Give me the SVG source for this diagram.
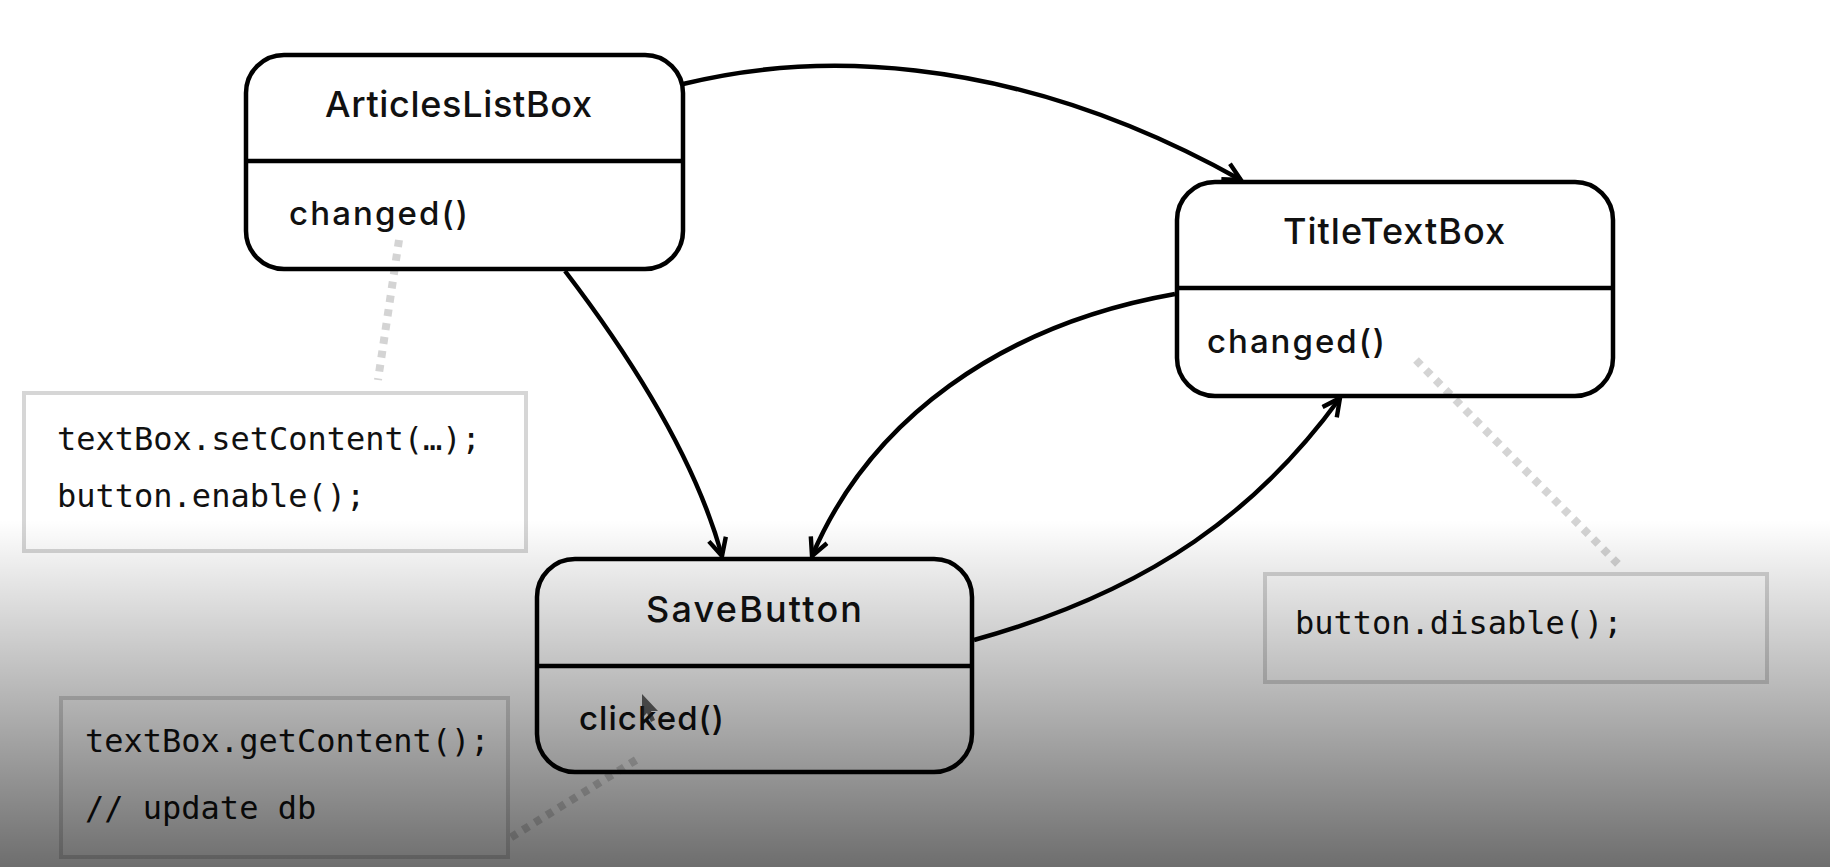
<svg xmlns="http://www.w3.org/2000/svg" width="1830" height="867" viewBox="0 0 1830 867">
  <defs>
    <style>
      .box { fill: none; stroke: #000; stroke-width: 4.5; }
      .div { stroke: #000; stroke-width: 4.5; }
      .title { font-family: Inter, "Noto Sans", "DejaVu Sans", sans-serif; font-weight: 500; font-size: 36px; fill: #111; }
      .method { font-family: Inter, "Noto Sans", "DejaVu Sans", sans-serif; font-weight: 500; font-size: 33px; fill: #111; }
      .note { fill: none; stroke: #d6d6d6; stroke-width: 4; }
      .code { font-family: "DejaVu Sans Mono", "Liberation Mono", monospace; font-size: 32px; fill: #111; }
      .edge { fill: none; stroke: #000; stroke-width: 4.5; marker-end: url(#arrow); }
      .dots { fill: none; stroke: #d4d4d4; stroke-width: 8; stroke-dasharray: 7 7; }
    </style>
    <marker id="arrow" markerUnits="userSpaceOnUse" viewBox="0 0 20 20" markerWidth="22" markerHeight="22" refX="18" refY="10" orient="auto">
      <path d="M2,2 L18,10 L2,18" fill="none" stroke="#000" stroke-width="4"/>
    </marker>
    <linearGradient id="shade" gradientUnits="userSpaceOnUse" x1="0" y1="520" x2="0" y2="867">
      <stop offset="0" stop-color="#000" stop-opacity="0"/>
      <stop offset="1" stop-color="#000" stop-opacity="0.57"/>
    </linearGradient>
  </defs>

  <rect x="0" y="0" width="1830" height="867" fill="#fff"/>

  <g id="connectors">
    <path class="edge" d="M683,84 C800,55 1000,45 1241,180"/>
    <path class="edge" d="M565,271 Q688,432 722,556"/>
    <path class="edge" d="M1175,294 C1000,325 870,420 812,556"/>
    <path class="edge" d="M974,640 C1154,590 1260,508 1340,398"/>
    <path class="dots" d="M399,240 L378,380"/>
    <path class="dots" d="M1416,360 L1620,566"/>
    <path class="dots" d="M636,760 L510,838"/>
  </g>

  <g id="note-articles">
    <rect class="note" x="24" y="393" width="502" height="158"/>
    <text class="code" x="57" y="450">textBox.setContent(…);</text>
    <text class="code" x="57" y="507">button.enable();</text>
  </g>

  <g id="note-save">
    <rect class="note" x="61" y="698" width="447" height="159"/>
    <text class="code" x="85" y="752">textBox.getContent();</text>
    <text class="code" x="85" y="819">// update db</text>
  </g>

  <g id="note-title">
    <rect class="note" x="1265" y="574" width="502" height="108"/>
    <text class="code" x="1295" y="634">button.disable();</text>
  </g>

  <g id="ArticlesListBox">
    <rect class="box" x="246" y="55" width="437" height="214" rx="38"/>
    <line class="div" x1="246" y1="161" x2="683" y2="161"/>
    <text class="title" x="325" y="117" textLength="267">ArticlesListBox</text>
    <text class="method" x="289" y="225" textLength="179">changed()</text>
  </g>

  <g id="TitleTextBox">
    <rect class="box" x="1177" y="182" width="436" height="214" rx="38"/>
    <line class="div" x1="1177" y1="288" x2="1613" y2="288"/>
    <text class="title" x="1283" y="244" textLength="222">TitleTextBox</text>
    <text class="method" x="1207" y="353" textLength="178">changed()</text>
  </g>

  <g id="SaveButton">
    <rect class="box" x="537" y="559" width="435" height="213" rx="38"/>
    <line class="div" x1="537" y1="666" x2="972" y2="666"/>
    <text class="title" x="646" y="622" textLength="216">SaveButton</text>
    <text class="method" x="579" y="730" textLength="145">clicked()</text>
  </g>

  <path id="cursor" d="M642,694 L642,718 L647,713 L651,722 L655,720 L651,711 L658,711 Z" fill="#222" opacity="0.7"/>

  <rect x="0" y="520" width="1830" height="347" fill="url(#shade)" pointer-events="none"/>
</svg>
